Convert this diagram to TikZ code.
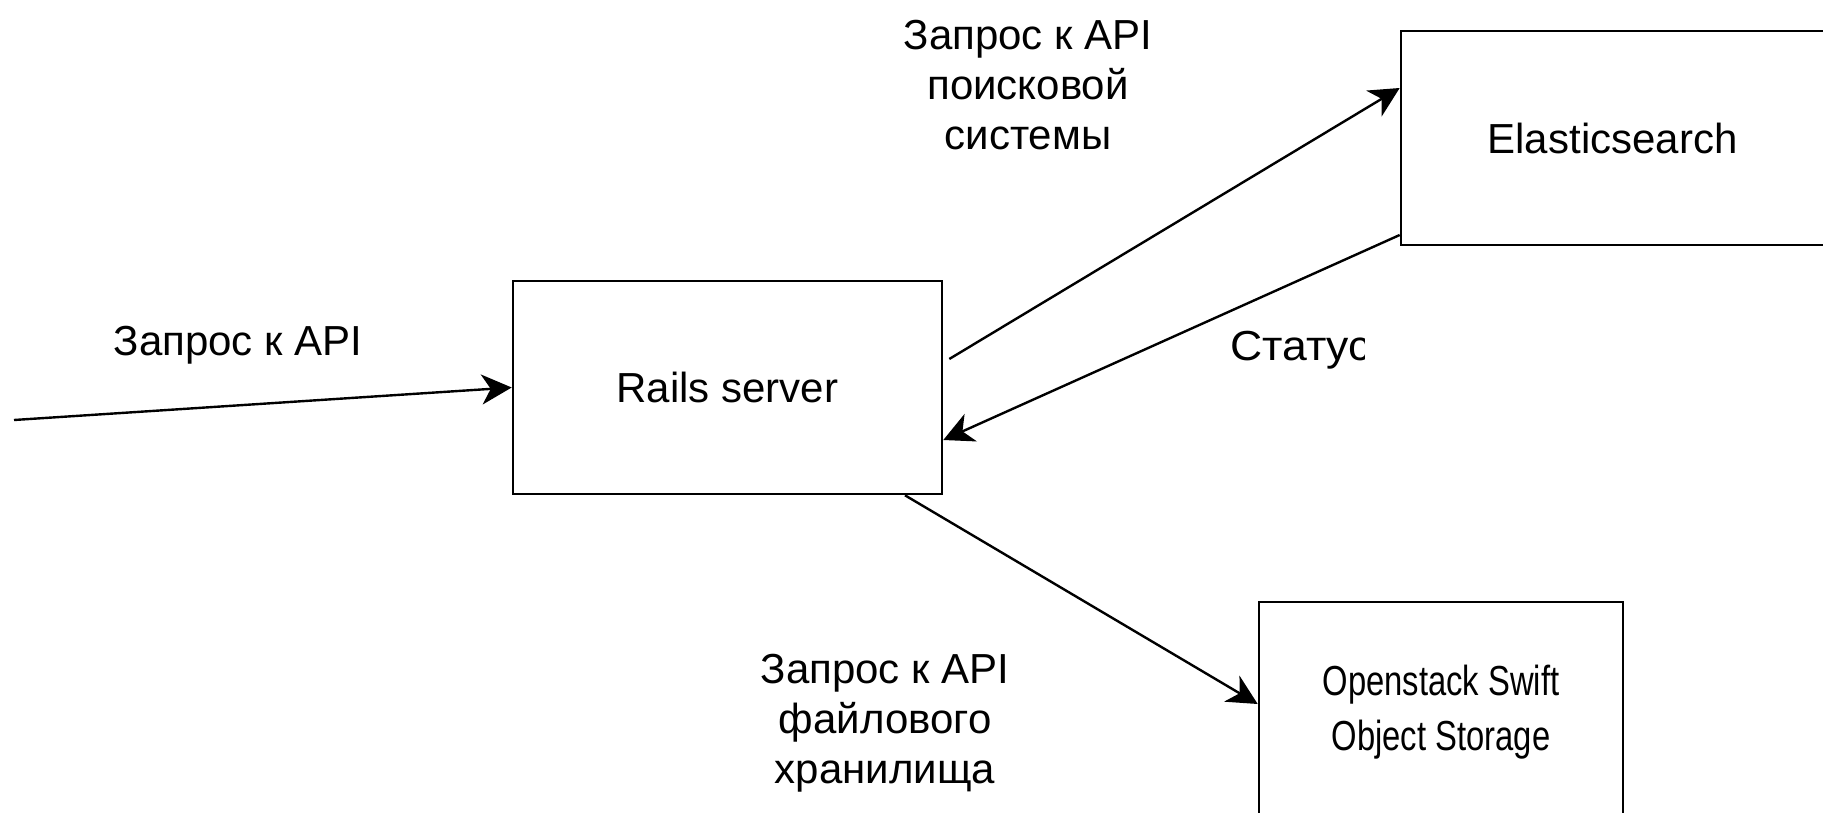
\documentclass[tikz,border=0pt]{standalone}
\usepackage{fontspec}
\setmainfont{Liberation Sans}
\usetikzlibrary{arrows.meta}
\begin{document}
\begin{tikzpicture}[x=1pt,y=-1pt,
  txt/.style={font=\fontsize{42}{50}\selectfont, inner sep=0pt, align=center},
  box/.style={draw, line width=2.6pt, txt},
  arr/.style={line width=2.4pt, -{Stealth[length=30pt,width=30pt,inset=9pt]}}]
\useasboundingbox (0,0) rectangle (1823,813);
% boxes
\node[box, minimum width=429pt, minimum height=213pt] (rails) at (727.5,387.5) {Rails server};
\node[box, minimum width=423pt, minimum height=214pt] (es) at (1612.5,138) {Elasticsearch};
\node[box, minimum width=364pt, minimum height=220pt] (os) at (1441,712)
  {\renewcommand{\arraystretch}{1.1}\scalebox{0.78}[1]{\begin{tabular}{@{}c@{}}Openstack Swift\\Object Storage\end{tabular}}};
% free end of incoming arrow
\coordinate (client) at (14,420);
% connectors
\draw[arr] (client) -- (rails.west);
\draw[arr] ([xshift=6pt,yshift=28.5pt]rails.east) -- ([yshift=50pt]es.west);
\draw[arr] ([yshift=-97pt]es.west) -- ([yshift=-52.5pt]rails.east);
\draw[arr] ([xshift=177.5pt]rails.south) -- ([yshift=8pt]os.west);
% labels
\node[txt] (l1) at (238,345) {Запрос к API};
\node[txt] (l2) at (1028,85) {Запрос к API\\поисковой\\системы};
\node[txt] (l4) at (885,723) {Запрос к API\\файлового\\хранилища};
\begin{scope}
\clip (1200,300) rectangle (1364,400);
\node[txt, anchor=west] (l3) at (1230,350) {\scalebox{1.06}[1]{Статус}};
\end{scope}
\end{tikzpicture}
\end{document}
